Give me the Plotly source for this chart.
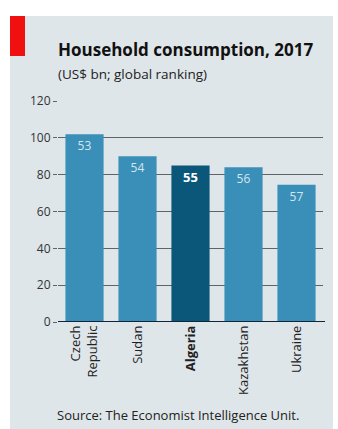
import plotly.graph_objects as go

countries = ["Czech<br>Republic", "Sudan", "<b>Algeria</b>", "Kazakhstan", "Ukraine"]
consumption = [102, 90, 85, 84, 74.5]
rankings = ["53", "54", "<b>55</b>", "56", "57"]
bar_colors = ["#3a8fb8", "#3a8fb8", "#0b5779", "#3a8fb8", "#3a8fb8"]
text_colors = ["#d4e6f0", "#d4e6f0", "#ffffff", "#d4e6f0", "#d4e6f0"]
text_sizes = [12, 12, 13, 12, 12]
y_ticks = [0, 20, 40, 60, 80, 100, 120]

W, H = 338, 429
L, R, T, B = 58, 15, 101, 107
pw, ph = W - L - R, H - T - B

def px(x):
    return (x - L) / pw

def py(y):
    return (H - B - y) / ph

FONT = "Open Sans"

fig = go.Figure()
fig.add_trace(go.Bar(
    x=list(range(len(countries))),
    y=consumption,
    marker=dict(color=bar_colors, line=dict(width=0)),
    text=rankings,
    textposition="inside",
    insidetextanchor="end",
    textangle=0,
    insidetextfont=dict(color=text_colors, size=text_sizes, family=FONT),
    cliponaxis=False,
))

fig.update_layout(
    width=W, height=H,
    margin=dict(l=L, r=R, t=T, b=B),
    paper_bgcolor="white",
    plot_bgcolor="rgba(0,0,0,0)",
    bargap=0.28,
    showlegend=False,
    font=dict(family=FONT, color="#222"),
    xaxis=dict(
        tickmode="array",
        tickvals=list(range(len(countries))),
        ticktext=countries,
        tickangle=-90,
        tickfont=dict(size=13, color="#222", family=FONT),
        showgrid=False, zeroline=False, showline=False,
        range=[-0.5, 4.5],
        fixedrange=True,
    ),
    yaxis=dict(
        range=[0, 120],
        tickvals=y_ticks,
        tickfont=dict(size=12, color="#333", family=FONT),
        showgrid=True, gridcolor="#5f6468", gridwidth=1,
        ticks="outside", ticklen=4, tickcolor="#5f6468",
        zeroline=False, showline=False,
        fixedrange=True,
    ),
    shapes=[
        dict(type="rect", xref="paper", yref="paper",
             x0=px(10), x1=px(333), y0=py(429), y1=py(16),
             fillcolor="#dfe6e9", line=dict(width=0), layer="below"),
        dict(type="rect", xref="paper", yref="paper",
             x0=px(10), x1=px(25), y0=py(56), y1=py(16),
             fillcolor="#f01010", line=dict(width=0), layer="below"),
        dict(type="line", xref="paper", yref="y",
             x0=0, x1=px(325), y0=0, y1=0,
             line=dict(color="#12243a", width=2), layer="above"),
    ],
    annotations=[
        dict(text="<b>Household consumption, 2017</b>", xref="paper", yref="paper",
             x=px(56), y=py(50), xanchor="left", yanchor="middle", showarrow=False,
             font=dict(size=17, color="#111", family=FONT)),
        dict(text="(US$ bn; global ranking)", xref="paper", yref="paper",
             x=px(56), y=py(74), xanchor="left", yanchor="middle", showarrow=False,
             font=dict(size=13.5, color="#222", family=FONT)),
        dict(text="Source: The Economist Intelligence Unit.", xref="paper", yref="paper",
             x=px(178), y=py(415), xanchor="center", yanchor="middle", showarrow=False,
             font=dict(size=13, color="#222", family=FONT)),
    ],
)

fig.write_html("out.html")
